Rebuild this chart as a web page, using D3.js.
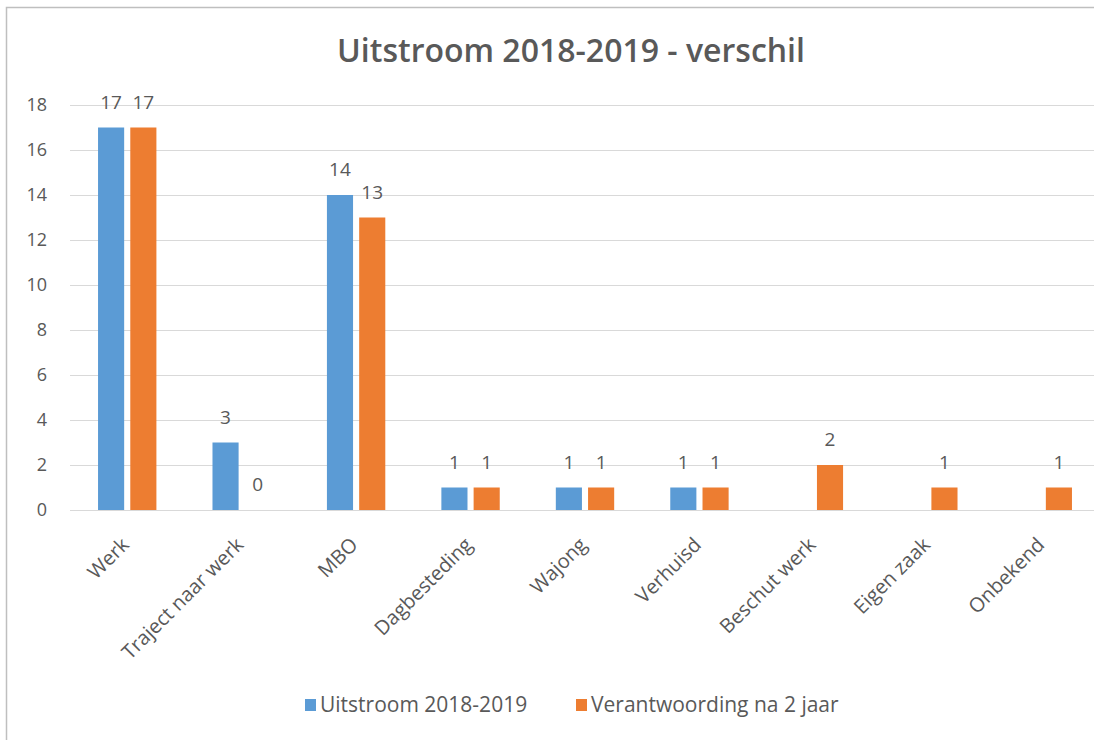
<!DOCTYPE html>
<html>
<head>
<meta charset="utf-8">
<script src="https://cdn.jsdelivr.net/npm/d3@7"></script>
<style>
  body { margin: 0; background: #fff; }
  text { font-family: "Open Sans", "Noto Sans", sans-serif; fill: #595959; }
</style>
</head>
<body>
<div class="chart"></div>
<script>
var categories = ["Werk", "Traject naar werk", "MBO", "Dagbesteding", "Wajong",
                  "Verhuisd", "Beschut werk", "Eigen zaak", "Onbekend"];
var uitstroom = [17, 3, 14, 1, 1, 1, null, null, null];
var verantwoording = [17, 0, 13, 1, 1, 1, 2, 1, 1];
var seriesNames = ["Uitstroom 2018-2019", "Verantwoording na 2 jaar"];
var yTicks = [0, 2, 4, 6, 8, 10, 12, 14, 16, 18];

var colors = ["#5B9BD5", "#ED7D31"];
var width = 1094, height = 740;
var plot = {left: 70, right: 1100, top: 105, bottom: 510};

var svg = d3.select("div.chart").append("svg")
    .attr("width", width)
    .attr("height", height);

// chart frame (only top and left edges are visible in the crop)
svg.append("path")
    .attr("d", "M6.5," + height + "V7.5H" + width)
    .attr("fill", "none")
    .attr("stroke", "#bfbfbf")
    .attr("stroke-width", 1.5);

var x0 = d3.scaleBand()
    .domain(categories)
    .range([plot.left, plot.right])
    .paddingInner(0.49)
    .paddingOuter(0.245);

var x1 = d3.scaleBand()
    .domain([0, 1])
    .range([0, x0.bandwidth()])
    .paddingInner(0.19);

var y = d3.scaleLinear()
    .domain([0, 18])
    .range([plot.bottom, plot.top]);

// gridlines
svg.append("g")
    .selectAll("line")
    .data(yTicks)
    .join("line")
    .attr("x1", plot.left)
    .attr("x2", width)
    .attr("y1", function(d) { return Math.round(y(d)) + 0.5; })
    .attr("y2", function(d) { return Math.round(y(d)) + 0.5; })
    .attr("stroke", "#d9d9d9")
    .attr("stroke-width", 1.2);

// y axis labels
var yAxis = svg.append("g")
    .attr("transform", "translate(" + 47 + ",0)")
    .call(d3.axisLeft(y).tickValues(yTicks).tickSize(0).tickPadding(0));
yAxis.select(".domain").remove();
yAxis.selectAll("text")
    .style("font-size", "18px")
    .attr("fill", "#595959")
    .style("font-family", "'Open Sans', sans-serif");

// x axis labels
var xAxis = svg.append("g")
    .attr("transform", "translate(0," + plot.bottom + ")")
    .call(d3.axisBottom(x0).tickSize(0).tickPadding(0));
xAxis.select(".domain").remove();
xAxis.selectAll("text")
    .attr("dy", null)
    .attr("y", 0)
    .attr("transform", "translate(3,36) rotate(-45)")
    .style("text-anchor", "end")
    .style("font-size", "20px")
    .attr("fill", "#595959")
    .style("font-family", "'Open Sans', sans-serif");

var rows = categories.map(function(c, i) {
  return {cat: c, vals: [uitstroom[i], verantwoording[i]]};
});

var groups = svg.append("g")
    .selectAll("g")
    .data(rows)
    .join("g")
    .attr("transform", function(d) { return "translate(" + x0(d.cat) + ",0)"; });

groups.selectAll("rect")
    .data(function(d) { return d.vals.map(function(v, k) { return {k: k, v: v}; }); })
    .join("rect")
    .filter(function(d) { return d.v != null && d.v > 0; })
    .attr("x", function(d) { return x1(d.k); })
    .attr("y", function(d) { return y(d.v); })
    .attr("width", x1.bandwidth())
    .attr("height", function(d) { return y(0) - y(d.v); })
    .attr("fill", function(d) { return colors[d.k]; });

groups.selectAll("text.lbl")
    .data(function(d) { return d.vals.map(function(v, k) { return {k: k, v: v}; }).filter(function(e) { return e.v != null; }); })
    .join("text")
    .attr("class", "lbl")
    .attr("x", function(d) { return x1(d.k) + x1.bandwidth() / 2; })
    .attr("y", function(d) { return y(d.v) - 19; })
    .style("text-anchor", "middle")
    .style("font-size", "19px")
    .attr("fill", "#404040")
    .text(function(d) { return d.v; });

// title
svg.append("text")
    .attr("x", 571)
    .attr("y", 62)
    .style("text-anchor", "middle")
    .style("font-size", "32px")
    .style("font-weight", "600")
    .attr("fill", "#595959")
    .text("Uitstroom 2018-2019 - verschil");

// legend
var legendX = [305, 576];
var legend = svg.append("g")
    .selectAll("g")
    .data(seriesNames)
    .join("g")
    .attr("transform", function(d, i) { return "translate(" + legendX[i] + ",699)"; });

legend.append("rect")
    .attr("width", 11)
    .attr("height", 12)
    .attr("fill", function(d, i) { return colors[i]; });

legend.append("text")
    .attr("x", 15)
    .attr("y", 13)
    .style("font-size", "21px")
    .attr("fill", "#595959")
    .text(function(d) { return d; });
</script>
</body>
</html>
